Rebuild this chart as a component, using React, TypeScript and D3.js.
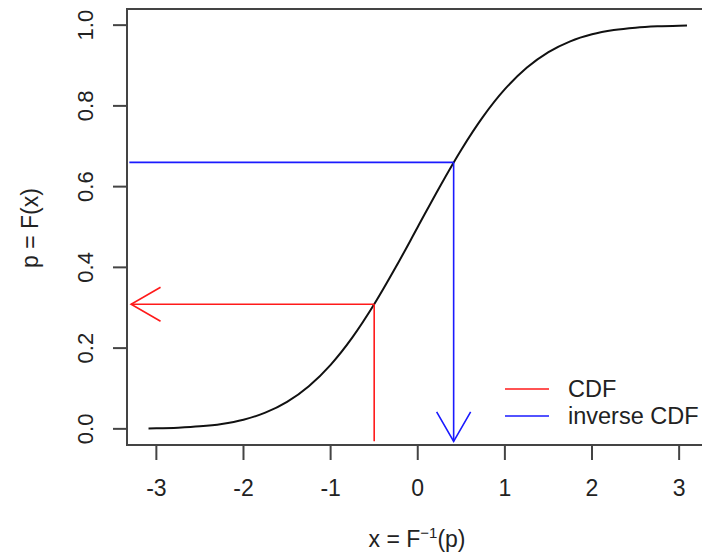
import React from "react";
import * as d3 from "d3";

const curveX = [-3.09, -3.0, -2.75, -2.5, -2.25, -2.0, -1.75, -1.5, -1.25, -1.0, -0.75, -0.5, -0.25, 0, 0.25, 0.5, 0.75, 1.0, 1.25, 1.5, 1.75, 2.0, 2.25, 2.5, 2.75, 3.0, 3.09];
const curveP = [0.001, 0.00135, 0.00298, 0.00621, 0.01222, 0.02275, 0.04006, 0.06681, 0.10565, 0.15866, 0.22663, 0.30854, 0.40129, 0.5, 0.59871, 0.69146, 0.77337, 0.84134, 0.89435, 0.93319, 0.95994, 0.97725, 0.98778, 0.99379, 0.99702, 0.99865, 0.999];

const xTicks = [-3, -2, -1, 0, 1, 2, 3];
const yTicks = [0, 0.2, 0.4, 0.6, 0.8, 1.0];
const yTickLabels = ["0.0", "0.2", "0.4", "0.6", "0.8", "1.0"];

const cdfX = -0.5;
const cdfP = 0.3085;
const invP = 0.66;
const invX = 0.412;
const arrowLeftX = -3.29;
const arrowBottomP = -0.031;

const legendLabels = ["CDF", "inverse CDF"];
const legendColors = ["#ff1a1a", "#1a1aff"];

const W = 702;
const H = 553;

export default function App() {
  const x = d3.scaleLinear().domain([-3.337, 3.337]).range([127, 708.5]);
  const y = d3.scaleLinear().domain([-0.04, 1.04]).range([445, 9]);
  const line = d3
    .line<number>()
    .x((_, i) => x(curveX[i]))
    .y((d) => y(d))
    .curve(d3.curveMonotoneX);

  const arrowHead = (tx: number, ty: number, fx: number, fy: number) => {
    const ang = Math.atan2(ty - fy, tx - fx);
    const L = 34;
    const a = (30 * Math.PI) / 180;
    const p1 = [tx - L * Math.cos(ang - a), ty - L * Math.sin(ang - a)];
    const p2 = [tx - L * Math.cos(ang + a), ty - L * Math.sin(ang + a)];
    return `M${p1[0]},${p1[1]}L${tx},${ty}L${p2[0]},${p2[1]}`;
  };

  const font = "'Liberation Sans', Arial, sans-serif";
  const axisColor = "#444";

  return (
    <div style={{ position: "absolute", left: 0, top: 0 }}>
      <svg width={W} height={H} style={{ display: "block", background: "#fff" }} fontFamily={font}>
        <rect x={127} y={9} width={581.5} height={436} fill="none" stroke={axisColor} strokeWidth={2} />
        <path d={line(curveP) || ""} fill="none" stroke="#111" strokeWidth={2} />
        <line x1={x(cdfX)} y1={y(arrowBottomP)} x2={x(cdfX)} y2={y(cdfP)} stroke={legendColors[0]} strokeWidth={1.6} />
        <line x1={x(cdfX)} y1={y(cdfP)} x2={x(arrowLeftX)} y2={y(cdfP)} stroke={legendColors[0]} strokeWidth={1.6} />
        <path d={arrowHead(x(arrowLeftX), y(cdfP), x(cdfX), y(cdfP))} fill="none" stroke={legendColors[0]} strokeWidth={1.6} />
        <line x1={x(-3.31)} y1={y(invP)} x2={x(invX)} y2={y(invP)} stroke={legendColors[1]} strokeWidth={1.6} />
        <line x1={x(invX)} y1={y(invP)} x2={x(invX)} y2={y(arrowBottomP)} stroke={legendColors[1]} strokeWidth={1.6} />
        <path d={arrowHead(x(invX), y(arrowBottomP), x(invX), y(invP))} fill="none" stroke={legendColors[1]} strokeWidth={1.6} />
        {xTicks.map((t) => (
          <g key={t}>
            <line x1={x(t)} x2={x(t)} y1={445} y2={460} stroke={axisColor} strokeWidth={2} />
            <text x={x(t)} y={496} textAnchor="middle" fontSize={23} fill="#222">
              {t}
            </text>
          </g>
        ))}
        {yTicks.map((t, i) => (
          <g key={t}>
            <line x1={113} x2={127} y1={y(t)} y2={y(t)} stroke={axisColor} strokeWidth={2} />
            <text transform={`translate(93,${y(t)}) rotate(-90)`} textAnchor="middle" fontSize={22} fill="#222">
              {yTickLabels[i]}
            </text>
          </g>
        ))}
        <text x={417} y={547} textAnchor="middle" fontSize={23} fill="#222">
          <tspan>x = F</tspan>
          <tspan dy={-9} fontSize={15}>−1</tspan>
          <tspan dy={9}>(p)</tspan>
        </text>
        <text transform={`translate(38,228) rotate(-90)`} textAnchor="middle" fontSize={23} fill="#222">
          p = F(x)
        </text>
        {legendLabels.map((l, i) => (
          <g key={l}>
            <line x1={505} x2={549} y1={389 + i * 27} y2={389 + i * 27} stroke={legendColors[i]} strokeWidth={1.6} />
            <text x={568} y={389 + i * 27} dominantBaseline="central" fontSize={23.5} fill="#222">
              {l}
            </text>
          </g>
        ))}
      </svg>
    </div>
  );
}
